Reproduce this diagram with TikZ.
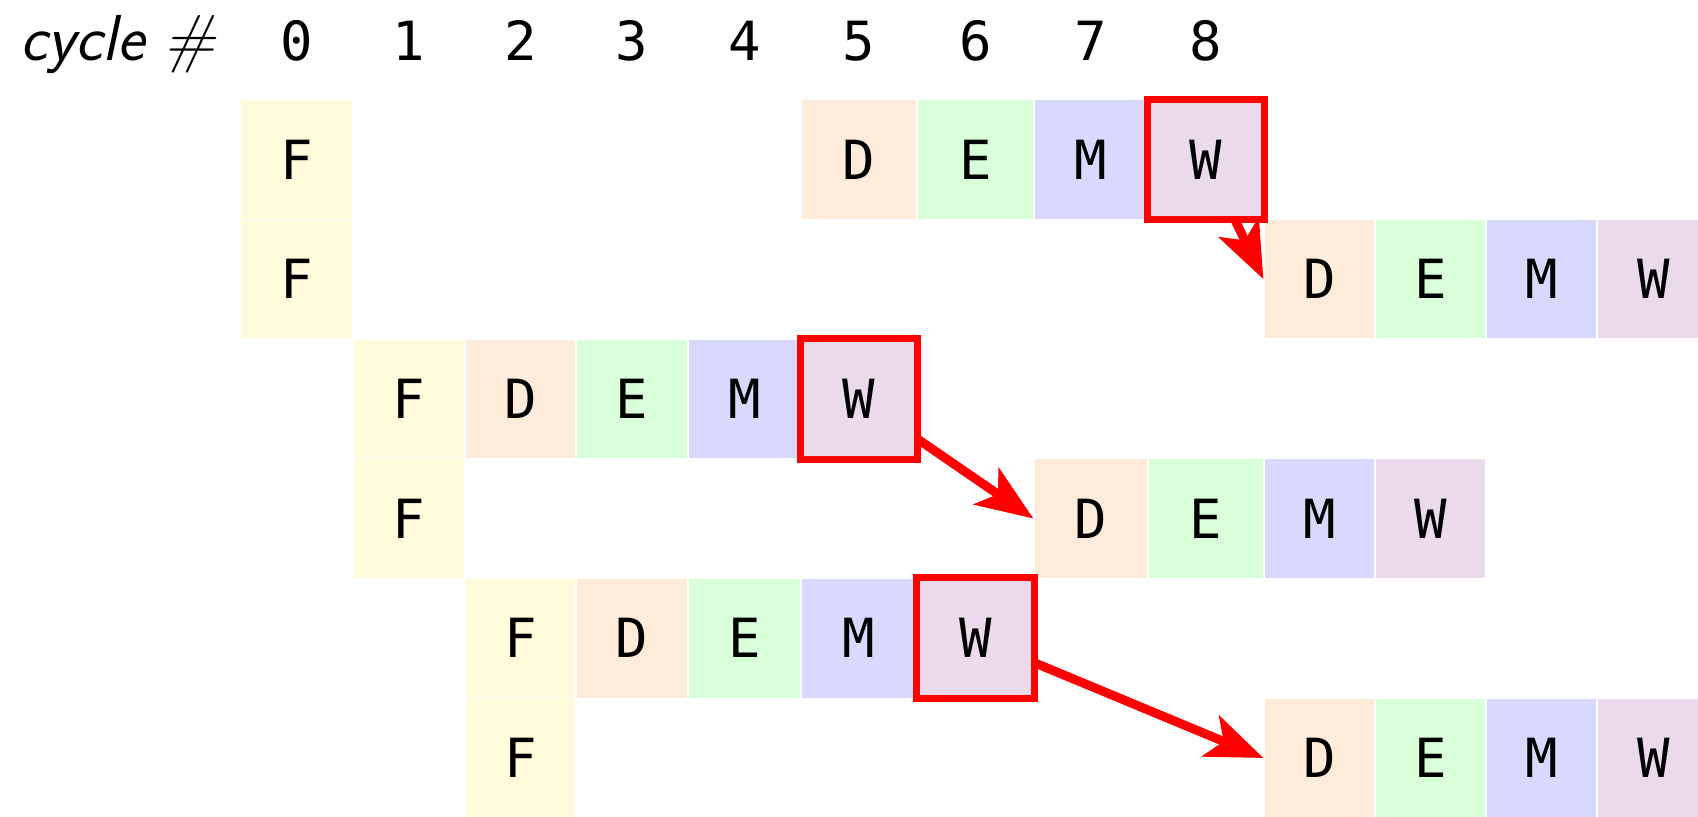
\documentclass[tikz,border=0pt]{standalone}
\usepackage{fontspec}
\newfontfamily\monofont{DejaVu Sans Mono}
\usetikzlibrary{arrows.meta}

\definecolor{cF}{RGB}{255,251,219}
\definecolor{cD}{RGB}{255,235,217}
\definecolor{cE}{RGB}{217,255,217}
\definecolor{cM}{RGB}{217,217,255}
\definecolor{cW}{RGB}{235,218,235}
\definecolor{hotred}{RGB}{255,0,0}

% column boundaries and row tops
\def\bx{{240,353,465,576,688,801,917,1034,1148,1264,1375,1486,1597,1710}}
\def\rowtop{99.6}
\def\rowh{119.7}

\tikzset{
  mono/.style={font=\monofont\fontsize{27}{30}\selectfont},
  cell/.style={mono, minimum height=59.85pt,
    inner sep=0pt, draw=white, line width=0.6pt},
  hot/.style={draw=hotred, line width=3.5pt},
  link/.style={draw=hotred, line width=4.5pt,
    -{Stealth[length=28.5pt, width=22pt, inset=7pt]}},
  label/.style={font=\sffamily\itshape\fontsize{32.5}{38}\selectfont}
}

\begin{document}
\begin{tikzpicture}[x=0.5pt, y=-0.5pt]
  \useasboundingbox (0,0) rectangle (1698,816);

  % header: cycle numbers
  \node[label, anchor=base east, inner sep=0pt] (hdr) at (216,60) {cycle \#};
  \foreach \i in {0,...,8} {
    \pgfmathsetmacro\xl{\bx[\i]}
    \pgfmathsetmacro\xr{\bx[\i+1]}
    \node[mono, anchor=base, inner sep=0pt] (n\i) at ({(\xl+\xr)/2},60) {\i};
  }

  % fetch stage of each instruction
  \foreach \r/\c in {0/0, 1/0, 2/1, 3/1, 4/2, 5/2} {
    \pgfmathsetmacro\xl{\bx[\c]}
    \pgfmathsetmacro\xr{\bx[\c+1]}
    \node[cell, fill=cF, minimum width={(\xr-\xl)*0.5pt}] (F\r)
      at ({(\xl+\xr)/2},{\rowtop+\rowh*(\r+0.5)}) {F};
  }

  % remaining stages D E M W
  \foreach \r/\c in {0/5, 1/9, 2/2, 3/7, 4/3, 5/9}
    \foreach \k [count=\j from 0] in {D,E,M,W} {
      \pgfmathsetmacro\xl{\bx[\c+\j]}
      \pgfmathsetmacro\xr{\bx[\c+\j+1]}
      \node[cell, fill=c\k, minimum width={(\xr-\xl)*0.5pt}] (\k\r)
        at ({(\xl+\xr)/2},{\rowtop+\rowh*(\r+0.5)}) {\k};
    }

  % highlighted write-back stages
  \foreach \r in {0,2,4}
    \draw[hot] (W\r.north west) rectangle (W\r.south east);

  % forwarding to the next decode
  \draw[link] (W0) -- (D1.west);
  \draw[link] (W2) -- (D3.west);
  \draw[link] (W4) -- (D5.west);
\end{tikzpicture}
\end{document}
